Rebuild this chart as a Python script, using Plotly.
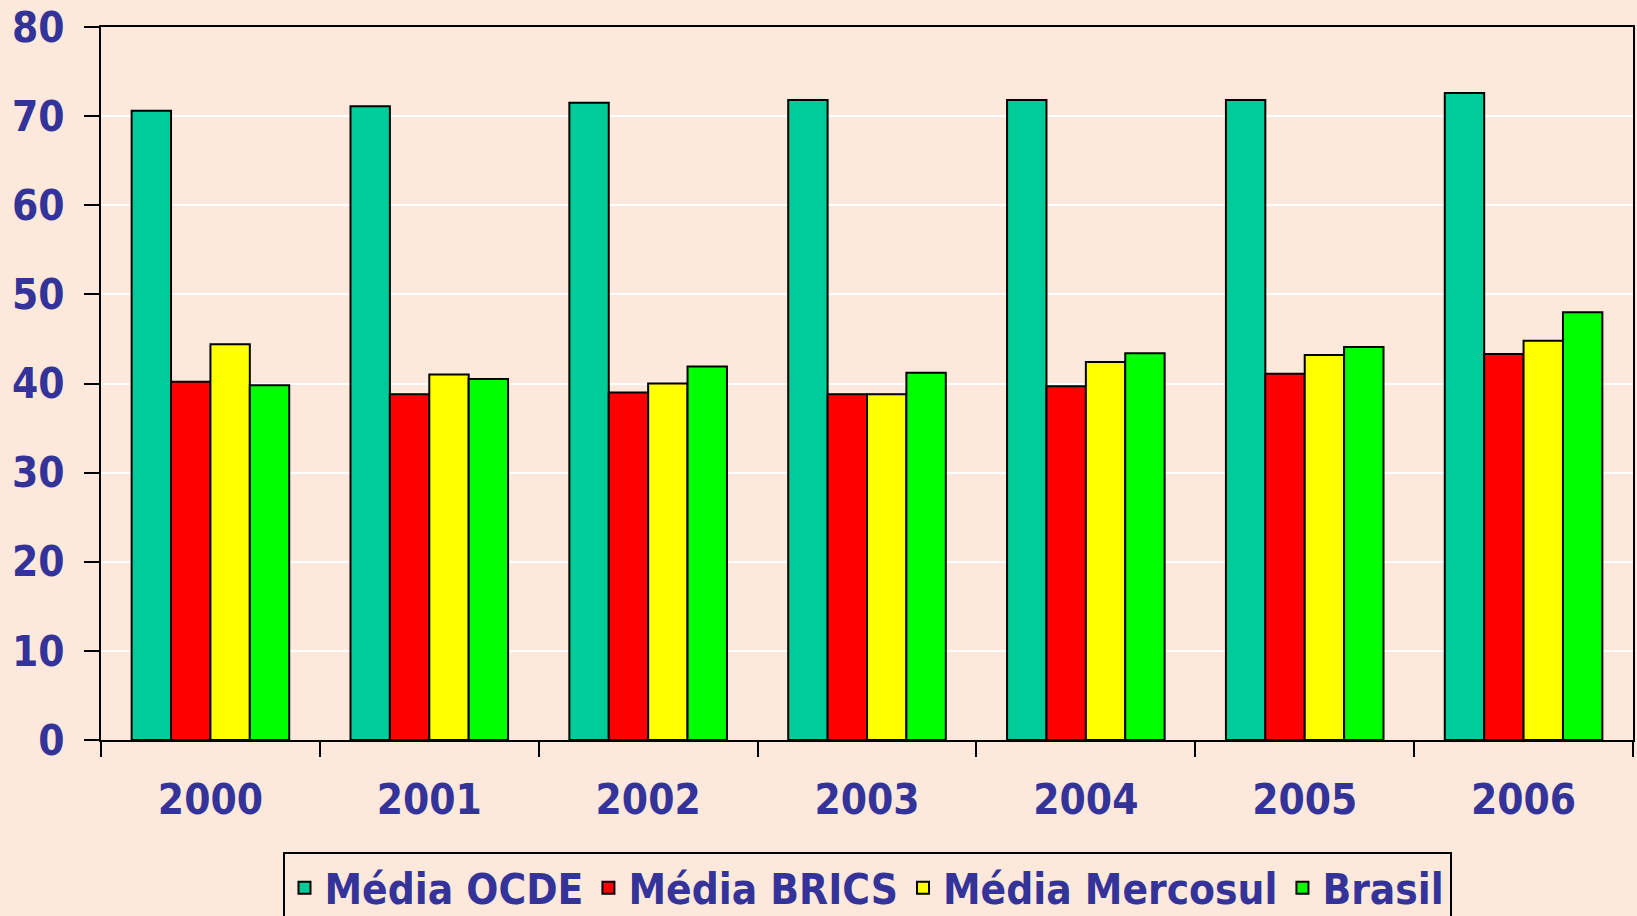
import plotly.graph_objects as go

years = ["2000", "2001", "2002", "2003", "2004", "2005", "2006"]
ocde = [70.6, 71.1, 71.5, 71.8, 71.8, 71.8, 72.6]
brics = [40.2, 38.8, 39.0, 38.8, 39.7, 41.1, 43.3]
mercosul = [44.4, 41.0, 40.0, 38.8, 42.4, 43.2, 44.8]
brasil = [39.8, 40.5, 41.9, 41.2, 43.4, 44.1, 48.0]

series_names = ["Média OCDE", "Média BRICS", "Média Mercosul", "Brasil"]
series_values = [ocde, brics, mercosul, brasil]
series_colors = ["#00CC99", "#FF0000", "#FFFF00", "#00FF00"]

y_ticks = [0, 10, 20, 30, 40, 50, 60, 70, 80]

BG = "#FDE9DB"
TXT = "#333399"
FONT = "DejaVu Sans Condensed, DejaVu Sans, sans-serif"

fig = go.Figure()
for name, vals, col in zip(series_names, series_values, series_colors):
    fig.add_trace(go.Bar(
        x=years, y=vals, name=name,
        marker=dict(color=col, line=dict(color="black", width=2)),
    ))

fig.update_layout(
    width=1637, height=916,
    paper_bgcolor=BG, plot_bgcolor=BG,
    barmode="group", bargap=0.28, bargroupgap=0,
    margin=dict(l=101, r=4, t=27, b=176, autoexpand=False),
    font=dict(family=FONT, color=TXT, size=38, weight="bold"),
    showlegend=True,
    legend=dict(
        orientation="h", x=0.5, xanchor="center", y=-0.157, yanchor="top",
        bgcolor=BG, bordercolor="black", borderwidth=2,
        font=dict(family=FONT, color=TXT, size=42, weight="bold"),
        itemsizing="constant", traceorder="normal",
    ),
    xaxis=dict(
        type="category", tickson="boundaries",
        showline=True, linecolor="black", linewidth=2, mirror=True,
        ticks="outside", ticklen=15, tickwidth=2, tickcolor="black",
        ticklabelstandoff=22,
        tickfont=dict(family=FONT, color=TXT, size=42, weight="bold"),
        showgrid=False,
    ),
    yaxis=dict(
        range=[0, 80], tickvals=y_ticks,
        showline=True, linecolor="black", linewidth=2, mirror=True,
        ticks="outside", ticklen=15, tickwidth=2, tickcolor="black",
        ticklabelstandoff=11,
        tickfont=dict(family=FONT, color=TXT, size=42, weight="bold"),
        showgrid=True, gridcolor="white", gridwidth=2,
        zeroline=False,
    ),
)

fig.write_html(
    "out.html",
    config={"displayModeBar": False},
    post_script="document.body.style.margin='0';document.body.style.padding='0';document.body.style.overflow='hidden';",
)
